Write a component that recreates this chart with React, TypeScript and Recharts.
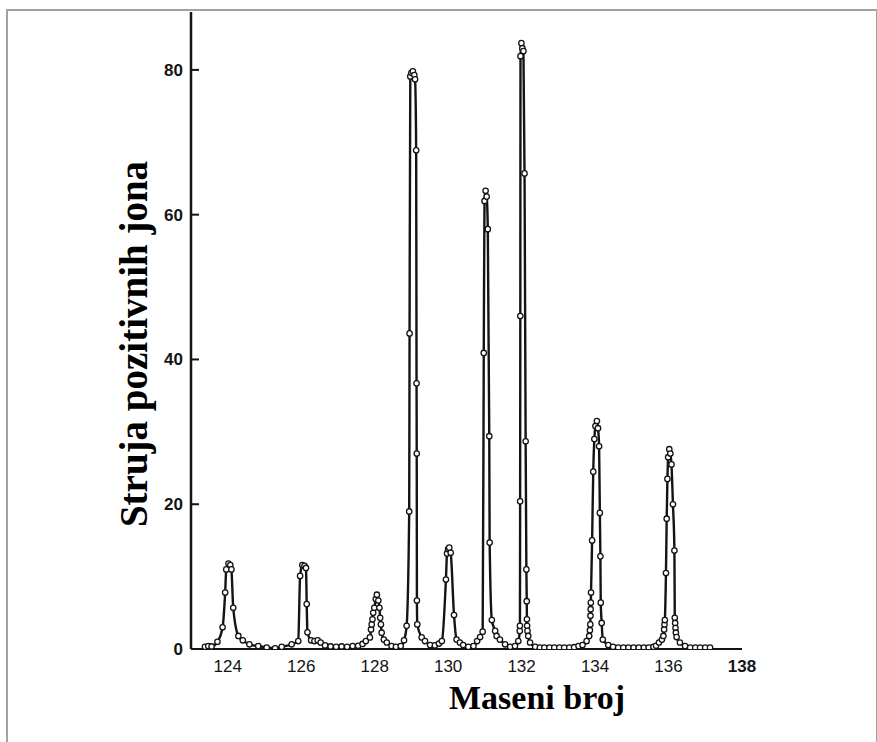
import React from 'react';
import { LineChart, Line, XAxis, YAxis } from 'recharts';

// mass number, ion current, peak by peak
const seg124: [number, number][] = [
  [123.38, 0.3], [123.47, 0.4], [123.56, 0.35], [123.72, 1.0], [123.86, 3.0], [123.93, 7.8],
  [123.96, 11.0], [124.02, 11.8], [124.07, 11.6], [124.1, 11.0], [124.15, 5.7], [124.29, 1.8],
  [124.41, 1.2], [124.59, 0.65], [124.83, 0.4], [125.06, 0.2], [125.29, 0.1], [125.47, 0.3],
  [125.74, 0.65], [125.92, 1.1],
];
const seg126: [number, number][] = [
  [125.97, 10.1], [126.03, 11.6], [126.09, 11.5], [126.13, 11.2], [126.15, 6.2], [126.17, 2.3],
  [126.27, 1.2], [126.36, 1.1], [126.45, 1.2], [126.53, 0.9], [126.65, 0.5], [126.8, 0.35],
  [126.95, 0.3], [127.1, 0.35], [127.25, 0.3], [127.4, 0.4], [127.55, 0.45], [127.67, 0.7],
  [127.76, 1.1],
];
const seg128: [number, number][] = [
  [127.87, 1.6], [127.9, 2.7], [127.92, 3.4], [127.94, 4.1], [127.96, 5.0], [127.99, 5.7],
  [128.03, 6.9], [128.06, 7.5], [128.1, 6.7], [128.13, 5.7], [128.15, 4.3], [128.17, 3.4],
  [128.19, 2.25], [128.25, 1.3], [128.33, 0.9], [128.46, 0.4], [128.58, 0.3], [128.71, 0.4],
  [128.8, 1.2],
];
const seg129: [number, number][] = [
  [128.87, 3.2], [128.94, 19.0], [128.95, 43.6], [128.97, 79.1], [129.0, 79.6], [129.04, 79.8],
  [129.08, 79.3], [129.1, 78.7], [129.13, 68.9], [129.14, 36.7], [129.145, 27.0], [129.15, 6.7],
  [129.16, 3.4], [129.28, 1.6], [129.37, 1.1], [129.51, 0.55], [129.64, 0.5], [129.75, 0.75],
  [129.83, 1.1],
];
const seg130: [number, number][] = [
  [129.94, 9.6], [129.97, 13.2], [130.0, 13.8], [130.03, 14.0], [130.07, 13.3], [130.16, 4.7],
  [130.23, 1.3], [130.32, 0.9], [130.41, 0.55], [130.55, 0.3], [130.69, 0.4], [130.79, 1.1],
  [130.87, 1.65], [130.94, 2.4],
];
const seg131: [number, number][] = [
  [130.97, 40.9], [130.99, 61.9], [131.02, 63.3], [131.05, 62.5], [131.08, 58.0], [131.12, 29.4],
  [131.13, 14.7], [131.19, 4.0], [131.28, 2.5], [131.32, 1.8], [131.41, 1.3], [131.55, 0.65],
  [131.69, 0.3], [131.82, 0.4], [131.91, 1.1],
];
const seg132: [number, number][] = [
  [131.95, 2.5], [131.955, 3.2], [131.96, 20.4], [131.965, 46.0], [131.97, 81.9], [131.995, 83.7],
  [132.02, 83.0], [132.05, 82.6], [132.08, 65.7], [132.11, 28.7], [132.13, 11.0], [132.14, 6.6],
  [132.145, 4.1], [132.15, 3.2], [132.16, 2.5], [132.18, 1.8], [132.23, 0.9], [132.37, 0.3],
  [132.5, 0.2], [132.62, 0.2], [132.76, 0.2], [132.89, 0.2], [133.03, 0.2], [133.16, 0.2],
  [133.3, 0.2], [133.43, 0.25], [133.55, 0.4], [133.66, 0.55], [133.77, 1.1],
];
const seg134: [number, number][] = [
  [133.84, 1.8], [133.86, 2.6], [133.87, 3.4], [133.875, 4.6], [133.88, 5.5], [133.885, 6.4],
  [133.89, 7.8], [133.92, 15.0], [133.95, 24.5], [133.98, 29.0], [134.01, 30.8], [134.05, 31.5],
  [134.08, 30.5], [134.11, 28.0], [134.13, 18.8], [134.145, 12.8], [134.155, 6.4], [134.18, 3.6],
  [134.21, 1.3], [134.36, 0.55], [134.49, 0.3], [134.63, 0.2], [134.77, 0.2], [134.91, 0.2],
  [135.05, 0.2], [135.19, 0.2], [135.33, 0.2], [135.46, 0.2], [135.59, 0.3], [135.66, 0.45],
  [135.74, 0.9],
];
const seg136: [number, number][] = [
  [135.82, 1.3], [135.86, 1.8], [135.88, 2.7], [135.89, 3.4], [135.9, 4.0], [135.93, 10.5],
  [135.95, 18.0], [135.97, 23.5], [135.99, 26.5], [136.02, 27.6], [136.05, 27.0], [136.08, 25.5],
  [136.12, 20.0], [136.16, 13.6], [136.17, 4.3], [136.18, 3.6], [136.19, 2.9], [136.2, 2.25],
  [136.22, 1.65], [136.31, 0.9], [136.45, 0.4], [136.59, 0.2], [136.73, 0.2], [136.86, 0.2],
  [137.0, 0.2], [137.13, 0.2],
];

const xTicks = [124, 126, 128, 130, 132, 134, 136, 138];
const yTicks = [0, 20, 40, 60, 80];

const data = [...seg124, ...seg126, ...seg128, ...seg129, ...seg130, ...seg131, ...seg132, ...seg134, ...seg136]
  .map(([mass, current]) => ({ mass, current }));

const INK = '#141414';

const YTick = (props: any) => {
  const { x, y, payload } = props;
  return (
    <g>
      <line x1={x + 6} x2={x + 14} y1={y} y2={y} stroke={INK} strokeWidth={2} />
      <text x={x - 2} y={y} dy={6} textAnchor="end" fontFamily="Liberation Sans" fontWeight={700} fontSize={17} fill={INK}>
        {payload.value}
      </text>
    </g>
  );
};

const XTick = (props: any) => {
  const { x, y, payload } = props;
  // the last label is printed heavier in the scan
  const last = payload.value === xTicks[xTicks.length - 1];
  return (
    <text x={x} y={y} dy={17} textAnchor="middle" fontFamily="Liberation Sans" fontWeight={last ? 700 : 400} fontSize={17} fill={INK}>
      {payload.value}
    </text>
  );
};

export default function App() {
  return (
    <div style={{ position: 'fixed', left: 0, top: 0, width: 877, height: 742, background: '#fff', overflow: 'hidden' }}>
      <div style={{ position: 'absolute', left: 6, top: 9, width: 868, height: 740, border: '2px solid #a2a2a2' }} />
      <div style={{ position: 'absolute', left: 0, top: 0 }}>
        <LineChart width={877} height={742} data={data} margin={{ top: 12, right: 135, bottom: 23, left: 131 }}>
          <XAxis
            dataKey="mass"
            type="number"
            domain={[123, 138]}
            ticks={xTicks}
            allowDataOverflow
            tickLine={false}
            tickSize={0}
            tickMargin={6}
            axisLine={{ stroke: INK, strokeWidth: 2 }}
            tick={<XTick />}
            height={70}
            label={{
              content: () => (
                <text x={537} y={709} textAnchor="middle" fontFamily="Liberation Serif" fontWeight={700} fontSize={34} fill="#000">
                  Maseni broj
                </text>
              ),
            }}
          />
          <YAxis
            type="number"
            domain={[0, 88]}
            ticks={yTicks}
            allowDataOverflow
            tickLine={false}
            tickSize={0}
            tickMargin={6}
            axisLine={{ stroke: INK, strokeWidth: 2.5 }}
            tick={<YTick />}
            width={60}
            label={{
              content: () => (
                <text x={147} y={344} transform="rotate(-90 147 344)" textAnchor="middle" fontFamily="Liberation Serif" fontWeight={700} fontSize={39} fill="#000">
                  Struja pozitivnih jona
                </text>
              ),
            }}
          />
          <Line
            dataKey="current"
            type="monotone"
            stroke={INK}
            strokeWidth={2.4}
            dot={{ r: 2.7, fill: '#fff', stroke: INK, strokeWidth: 1.3 }}
            activeDot={false}
            isAnimationActive={false}
          />
        </LineChart>
      </div>
    </div>
  );
}
